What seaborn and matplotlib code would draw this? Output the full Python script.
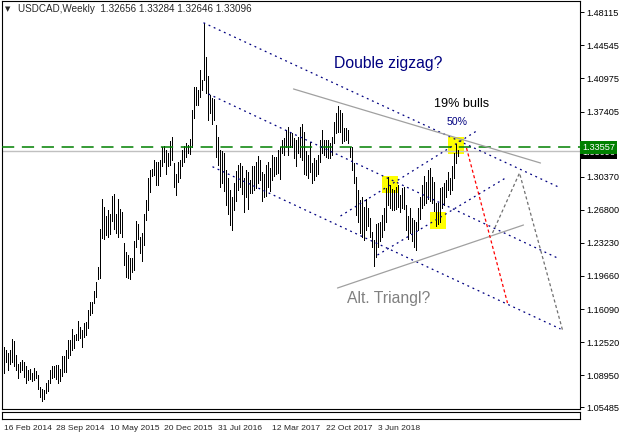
import seaborn as sns
import matplotlib.pyplot as plt
from matplotlib.patches import Rectangle
import numpy as np

# weekly USDCAD bars (high / low), one per week from 16 Feb 2014
highs = [1.120, 1.117, 1.113, 1.117, 1.129, 1.126, 1.111, 1.102, 1.104, 1.106,
         1.104, 1.099, 1.095, 1.096, 1.092, 1.097, 1.094, 1.090, 1.077, 1.075,
         1.074, 1.081, 1.084, 1.095, 1.099, 1.099, 1.101, 1.101, 1.096, 1.110,
         1.110, 1.117, 1.128, 1.128, 1.139, 1.133, 1.134, 1.148, 1.142, 1.138,
         1.146, 1.147, 1.160, 1.169, 1.168, 1.180, 1.190, 1.206, 1.247, 1.280,
         1.271, 1.261, 1.268, 1.264, 1.283, 1.285, 1.264, 1.280, 1.269, 1.266,
         1.232, 1.222, 1.219, 1.216, 1.216, 1.234, 1.256, 1.253, 1.239, 1.243,
         1.264, 1.279, 1.302, 1.311, 1.312, 1.322, 1.320, 1.320, 1.322, 1.336,
         1.337, 1.333, 1.329, 1.342, 1.347, 1.318, 1.307, 1.320, 1.322, 1.333,
         1.337, 1.340, 1.338, 1.344, 1.376, 1.401, 1.400, 1.397, 1.419, 1.408,
         1.470, 1.433, 1.412, 1.392, 1.389, 1.388, 1.360, 1.347, 1.333, 1.331,
         1.329, 1.311, 1.302, 1.289, 1.282, 1.297, 1.310, 1.316, 1.318, 1.315,
         1.302, 1.311, 1.309, 1.300, 1.315, 1.315, 1.320, 1.326, 1.322, 1.309,
         1.307, 1.316, 1.320, 1.313, 1.327, 1.325, 1.325, 1.333, 1.336, 1.343,
         1.345, 1.354, 1.357, 1.352, 1.351, 1.345, 1.343, 1.347, 1.357, 1.361,
         1.352, 1.331, 1.327, 1.341, 1.318, 1.324, 1.322, 1.327, 1.343, 1.354,
         1.343, 1.343, 1.343, 1.340, 1.347, 1.363, 1.372, 1.380, 1.376, 1.373,
         1.356, 1.356, 1.354, 1.336, 1.336, 1.318, 1.303, 1.289, 1.279, 1.282,
         1.271, 1.280, 1.270, 1.259, 1.244, 1.235, 1.253, 1.254, 1.255, 1.262,
         1.270, 1.291, 1.303, 1.295, 1.290, 1.289, 1.293, 1.295, 1.284, 1.291,
         1.293, 1.273, 1.261, 1.270, 1.259, 1.257, 1.255, 1.270, 1.282, 1.295,
         1.304, 1.298, 1.311, 1.313, 1.303, 1.298, 1.275, 1.275, 1.291, 1.293,
         1.297, 1.300, 1.309, 1.302, 1.315, 1.329, 1.339, 1.333]
lows = [1.092, 1.104, 1.095, 1.102, 1.104, 1.099, 1.095, 1.086, 1.093, 1.095,
        1.088, 1.081, 1.084, 1.085, 1.083, 1.084, 1.086, 1.075, 1.066, 1.062,
        1.064, 1.070, 1.072, 1.081, 1.087, 1.088, 1.085, 1.081, 1.083, 1.089,
        1.093, 1.093, 1.108, 1.111, 1.117, 1.119, 1.127, 1.128, 1.130, 1.120,
        1.131, 1.133, 1.140, 1.155, 1.157, 1.167, 1.174, 1.193, 1.194, 1.238,
        1.236, 1.241, 1.239, 1.242, 1.256, 1.247, 1.243, 1.239, 1.243, 1.239,
        1.208, 1.196, 1.194, 1.193, 1.201, 1.203, 1.228, 1.236, 1.221, 1.213,
        1.230, 1.257, 1.268, 1.287, 1.304, 1.306, 1.295, 1.295, 1.304, 1.315,
        1.320, 1.307, 1.315, 1.316, 1.322, 1.293, 1.284, 1.298, 1.302, 1.315,
        1.320, 1.325, 1.329, 1.328, 1.336, 1.367, 1.381, 1.381, 1.390, 1.397,
        1.408, 1.394, 1.365, 1.372, 1.361, 1.365, 1.325, 1.316, 1.293, 1.297,
        1.288, 1.273, 1.264, 1.252, 1.246, 1.268, 1.277, 1.289, 1.293, 1.285,
        1.266, 1.282, 1.269, 1.286, 1.286, 1.289, 1.291, 1.297, 1.300, 1.277,
        1.282, 1.283, 1.293, 1.288, 1.300, 1.304, 1.307, 1.308, 1.301, 1.329,
        1.327, 1.336, 1.327, 1.336, 1.336, 1.324, 1.315, 1.329, 1.325, 1.322,
        1.307, 1.306, 1.302, 1.309, 1.297, 1.300, 1.304, 1.307, 1.320, 1.329,
        1.327, 1.325, 1.324, 1.324, 1.327, 1.340, 1.351, 1.352, 1.352, 1.340,
        1.342, 1.343, 1.340, 1.325, 1.311, 1.297, 1.262, 1.255, 1.243, 1.239,
        1.235, 1.246, 1.250, 1.239, 1.228, 1.207, 1.217, 1.228, 1.234, 1.239,
        1.246, 1.255, 1.273, 1.270, 1.268, 1.268, 1.269, 1.271, 1.266, 1.270,
        1.269, 1.246, 1.236, 1.243, 1.234, 1.228, 1.225, 1.246, 1.258, 1.270,
        1.273, 1.275, 1.280, 1.277, 1.275, 1.267, 1.250, 1.253, 1.255, 1.270,
        1.273, 1.282, 1.289, 1.285, 1.289, 1.302, 1.318, 1.326]

date_pos = [0, 26.5, 53.5, 80, 107, 134, 161, 187.5]
date_labels = ['16 Feb 2014', '28 Sep 2014', '10 May 2015', '20 Dec 2015',
               '31 Jul 2016', '12 Mar 2017', '22 Oct 2017', '3 Jun 2018']
price_ticks = [1.48115, 1.44545, 1.40975, 1.37405, 1.30370, 1.26800, 1.23230,
               1.19660, 1.16090, 1.12520, 1.08950, 1.05485]

level_green = 1.33557
level_bid = 1.33096

# drawn objects: (bar index list, price list)
navy_lines = [
    ([100, 277.5], [1.4699, 1.2926]),
    ([102.5, 277], [1.3930, 1.2160]),
    ([104.5, 278.5], [1.3145, 1.1394]),
    ([168.5, 236.5], [1.2613, 1.3530]),
    ([187, 251], [1.2192, 1.3023]),
]
gray_lines = [
    ([145, 268.5], [1.3984, 1.3185]),
    ([167, 260], [1.1836, 1.2516]),
]
red_path = ([231.5, 252], [1.3347, 1.1674])
gray_path = ([244.5, 258, 279.5], [1.2430, 1.3077, 1.1383])
yellow_boxes = [(189, 1.2861, 8, 0.0184), (213, 1.2473, 8, 0.0184),
                (222, 1.3282, 8, 0.0184)]

sns.set_style('white')
plt.rcParams['font.family'] = ['Liberation Sans', 'DejaVu Sans']

W, H = 623, 440
fig = plt.figure(figsize=(W / 100, H / 100), dpi=100)
ax = fig.add_axes([2 / W, 31 / H, 578 / W, 408 / H])

for x0, y0, w, h in yellow_boxes:
    ax.add_patch(Rectangle((x0, y0), w, h, fc='#ffff00', ec='none', zorder=0.5))

# one-pixel bars, two pixels apart, like the terminal draws them
bars_x = np.arange(len(highs))
ax.vlines(bars_x, lows, highs, color='black', lw=0.72, antialiased=False, zorder=2)

ax.axhline(level_bid, color='#c0c0c0', lw=1.0, zorder=1)
ax.axhline(level_green, color='#008000', lw=1.1, dashes=(8, 5), zorder=3)

for xs, ys in navy_lines:
    sns.lineplot(x=xs, y=ys, ax=ax, color='#000080', lw=0.9,
                 linestyle=(0, (1.5, 3)), sort=False, zorder=3)
for xs, ys in gray_lines:
    sns.lineplot(x=xs, y=ys, ax=ax, color='#a0a0a0', lw=0.9, sort=False, zorder=3)
sns.lineplot(x=red_path[0], y=red_path[1], ax=ax, color='red', lw=0.9,
             linestyle=(0, (2.5, 2)), sort=False, zorder=3)
sns.lineplot(x=gray_path[0], y=gray_path[1], ax=ax, color='#707070', lw=0.9,
             linestyle=(0, (2.5, 2)), sort=False, zorder=3)

ax.text(192.5, 1.4254, 'Double zigzag?', color='#000080', fontsize=11.3,
        ha='center', va='center')
ax.text(229, 1.3822, '19% bulls', color='black', fontsize=9.1, ha='center', va='center')
ax.text(227, 1.3628, '50%', color='#000080', fontsize=7.6, ha='center', va='center')
ax.text(192.5, 1.1718, 'Alt. Triangl?', color='#808080', fontsize=11.3,
        ha='center', va='center')

# x limits shifted a quarter bar so every bar falls on a pixel centre
ax.set_xlim(-0.75, 288.25)
ax.set_ylim(1.05302, 1.49335)
ax.set_xticks([])
ax.yaxis.tick_right()
ax.set_yticks(price_ticks)
ax.set_yticklabels([f'{v:.5f}' for v in price_ticks])
ax.tick_params(axis='y', direction='out', length=3, width=0.7, pad=1.5,
               labelsize=6.6, colors='black')
for s in ax.spines.values():
    s.set_color('black')
    s.set_linewidth(0.8)

# price labels on the right scale (the bid label sits half under the green one)
yt = ax.get_yaxis_transform()
ax.text(1.004, level_bid - 0.0012, '1.33096', transform=yt, color='white',
        fontsize=6.6, va='center', ha='left', zorder=5, clip_on=False,
        bbox=dict(boxstyle='square,pad=0.2', fc='black', ec='none'))
ax.text(1.004, level_green, f'{level_green:.5f}', transform=yt, color='white',
        fontsize=6.6, va='center', ha='left', zorder=6, clip_on=False,
        bbox=dict(boxstyle='square,pad=0.2', fc='#008000', ec='none'))

# scroll strip with the date scale under it
axd = fig.add_axes([2 / W, 21 / H, 578 / W, 7 / H])
axd.set_xlim(-0.75, 288.25)
axd.set_yticks([])
axd.set_xticks(date_pos)
axd.set_xticklabels(date_labels, ha='left')
axd.tick_params(axis='x', direction='out', length=3, width=0.7, pad=1,
                labelsize=6.1)
for s in axd.spines.values():
    s.set_color('black')
    s.set_linewidth(0.8)

fig.text(5 / W, 1 - 9 / H, '\u25bc', fontsize=5, family='DejaVu Sans', va='center')
fig.text(18 / W, 1 - 9 / H, 'USDCAD,Weekly  1.32656 1.33284 1.32646 1.33096',
         fontsize=7.1, va='center')

fig.savefig('out.png', dpi=100)
